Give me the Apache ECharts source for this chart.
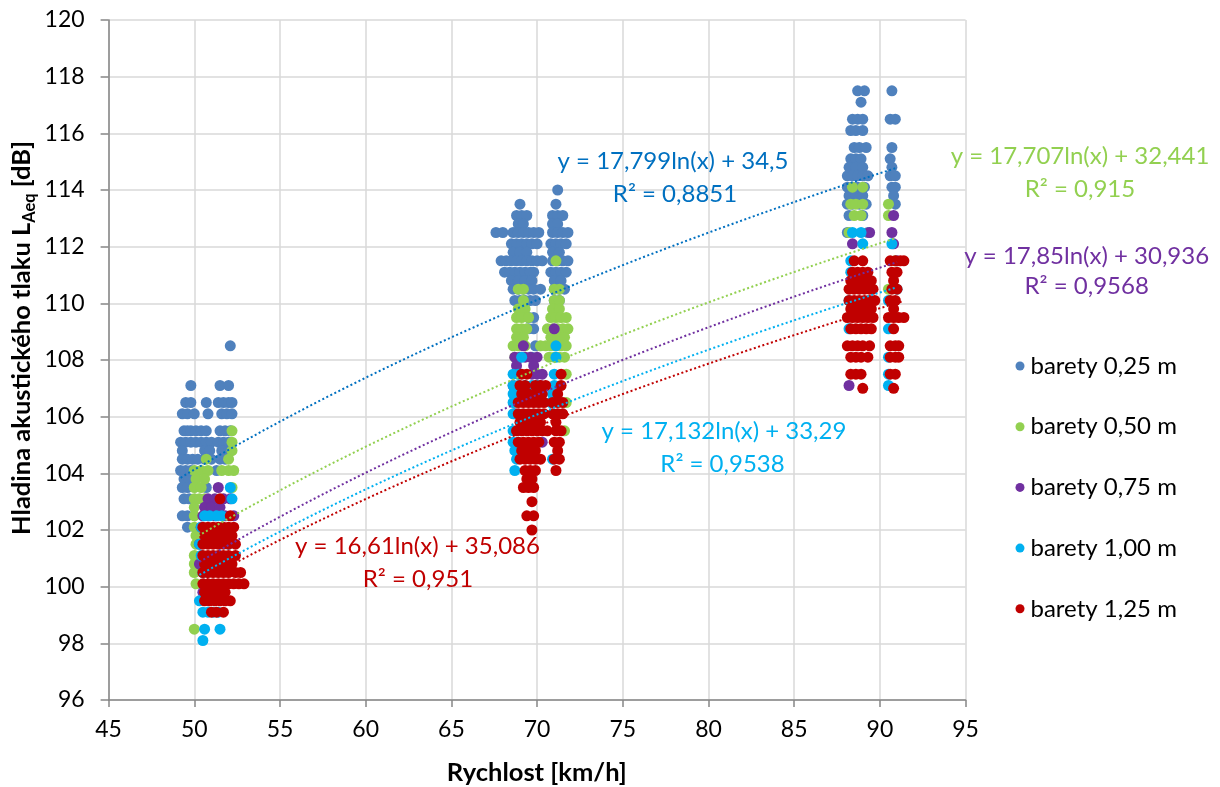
<!DOCTYPE html>
<html><head><meta charset="utf-8">
<script src="https://cdn.jsdelivr.net/npm/echarts@6/dist/echarts.min.js"></script>
<style>html,body{margin:0;padding:0;background:#fff}#c{width:1220px;height:787px}</style>
</head><body><div id="c"></div>
<script>
// ---- DATA ----
const seriesNames = ['barety 0,25 m', 'barety 0,50 m', 'barety 0,75 m', 'barety 1,00 m', 'barety 1,25 m'];
const xAxisRange = [45, 95, 5];
const yAxisRange = [96, 120, 2];
// rows: [y, x1, x2, ...]
const rows025 = [
  [108.5, 52.1],
  [107.1, 49.8, 51.5, 52.0],
  [106.5, 49.5, 49.8, 50.7, 51.4, 51.7, 52.0, 52.2],
  [106.1, 49.3, 49.6, 50.0, 50.8, 51.6, 51.9, 52.2],
  [105.5, 49.4, 49.6, 49.8, 50.1, 50.4, 50.7, 51.5, 51.8, 52.1],
  [105.1, 49.2, 49.5, 49.8, 50.1, 50.4, 50.7, 51.0, 51.4, 51.7, 52.0],
  [104.8, 49.3, 50.6, 50.9, 51.6, 52.0],
  [104.5, 49.3, 49.6, 49.9, 50.2, 50.6, 51.0, 51.5, 51.8],
  [104.1, 49.2, 49.5, 49.8, 51.3],
  [103.8, 49.4, 49.7],
  [103.5, 49.3, 49.6, 50.7],
  [103.1, 49.4, 49.7],
  [102.5, 49.3, 49.6],
  [102.1, 49.6],
  [114.0, 71.2],
  [113.5, 69.0, 71.1],
  [113.1, 68.8, 69.1, 69.4, 70.9, 71.2, 71.5],
  [112.8, 68.9, 69.2, 70.9, 71.2],
  [112.5, 67.6, 68.0, 68.6, 68.9, 69.2, 69.5, 69.8, 70.1, 70.9, 71.2, 71.5, 71.8],
  [112.1, 68.5, 68.8, 69.1, 69.4, 69.7, 70.0, 70.8, 71.1, 71.4, 71.7],
  [111.8, 68.6, 69.0, 69.4, 70.9, 71.3],
  [111.5, 67.9, 68.2, 68.5, 68.8, 69.1, 69.4, 69.7, 70.0, 70.3, 70.9, 71.2, 71.5, 71.8],
  [111.1, 68.1, 68.4, 68.7, 69.0, 69.3, 69.6, 69.8, 70.8, 71.1, 71.4, 71.7],
  [110.8, 68.5, 68.9, 69.3, 69.7, 71.0, 71.4],
  [110.5, 68.6, 68.9, 69.2, 69.5, 69.8, 70.2, 71.0, 71.3, 71.6],
  [110.1, 68.7, 69.0, 69.3, 69.6, 69.9, 71.0, 71.3],
  [109.5, 69.5, 69.8],
  [109.1, 69.5, 69.8],
  [108.5, 69.9],
  [108.1, 69.7],
  [117.5, 88.7, 89.1, 90.7],
  [117.1, 88.9],
  [116.5, 88.4, 88.7, 89.0, 90.6, 90.9],
  [116.1, 88.3, 88.6, 89.0],
  [115.5, 88.5, 88.8, 89.2, 90.7],
  [115.1, 88.3, 88.6, 88.9, 90.6],
  [114.8, 88.2, 88.6, 89.0, 90.7],
  [114.5, 88.1, 88.4, 88.7, 89.0, 89.3, 90.6, 90.9],
  [114.1, 88.1, 88.4, 88.7, 89.1, 90.7, 90.9],
  [113.8, 88.2, 88.6, 89.0, 90.8],
  [113.5, 88.1, 88.4, 88.8, 89.2, 90.9],
  [113.1, 88.2, 89.0],
  [112.5, 88.1, 89.3]
];
const rows050 = [
  [105.5, 52.2],
  [105.1, 52.2],
  [104.8, 52.2],
  [104.5, 50.7, 52.0],
  [104.1, 50.0, 50.4, 50.8, 51.6, 52.0, 52.3],
  [103.8, 50.1, 50.6],
  [103.5, 50.0, 50.4, 52.2],
  [103.1, 50.0, 50.3, 50.6],
  [102.8, 50.0],
  [102.5, 50.0],
  [102.1, 50.0],
  [101.8, 50.1],
  [101.5, 50.1],
  [101.1, 50.0],
  [100.8, 50.0],
  [100.5, 50.0],
  [100.1, 50.1],
  [98.5, 50.0],
  [111.5, 71.1],
  [110.5, 68.9, 69.2, 71.0, 71.3],
  [110.1, 69.2, 71.0, 71.3],
  [109.8, 68.9, 69.3, 70.9, 71.3],
  [109.5, 68.8, 69.1, 69.5, 70.8, 71.1, 71.4, 71.7],
  [109.1, 68.8, 69.1, 69.4, 70.6, 70.9, 71.2, 71.5, 71.8],
  [108.8, 68.8, 69.2, 70.8, 71.2, 71.6],
  [108.5, 68.6, 68.9, 69.3, 70.2, 70.5, 70.8, 71.1, 71.4, 71.7],
  [108.1, 68.7, 70.7, 71.0, 71.3, 71.6],
  [107.5, 68.9, 71.7],
  [106.5, 68.7, 71.7],
  [105.5, 71.6],
  [114.1, 88.4, 89.0],
  [113.5, 88.3, 88.6, 89.0, 90.5],
  [113.1, 88.5, 88.9, 90.5],
  [112.5, 88.2],
  [111.5, 90.9],
  [110.5, 90.5]
];
const rows075 = [
  [103.5, 51.4],
  [103.1, 50.8, 51.2, 51.7, 52.1],
  [102.8, 50.6, 51.0, 51.5],
  [102.5, 50.5, 50.8, 51.2, 51.8, 52.3],
  [102.1, 50.4],
  [101.5, 50.3],
  [100.8, 50.3],
  [99.8, 50.5],
  [109.1, 71.0],
  [108.5, 69.2],
  [108.1, 68.7, 69.0, 69.3, 69.6, 70.0],
  [107.8, 68.8, 69.8],
  [107.5, 69.7, 70.0, 70.3],
  [107.1, 68.6, 70.2],
  [106.1, 68.7],
  [105.1, 70.3],
  [113.1, 90.8],
  [112.5, 89.4, 90.7],
  [112.1, 88.4, 90.8],
  [111.5, 91.0],
  [107.1, 88.2]
];
const rows100 = [
  [103.5, 52.1],
  [103.1, 52.2],
  [102.5, 50.6, 50.9, 51.3, 51.6],
  [102.1, 50.4],
  [101.5, 50.3, 52.0],
  [101.1, 50.4],
  [100.5, 50.5],
  [99.5, 50.3, 50.8],
  [99.1, 50.5, 50.8, 51.1, 51.4],
  [98.5, 50.6, 51.5],
  [98.1, 50.5],
  [108.5, 71.1],
  [108.1, 69.1, 71.1],
  [107.5, 68.6, 68.9, 71.0],
  [107.1, 68.6, 68.9, 69.3, 69.7, 70.0, 71.0],
  [106.8, 68.6, 70.9],
  [106.5, 68.6, 70.8],
  [106.1, 68.6],
  [105.5, 68.6],
  [105.1, 68.6, 68.9],
  [104.8, 68.7],
  [104.5, 68.8, 70.9],
  [104.1, 68.7],
  [112.5, 88.4, 88.9],
  [112.1, 89.0, 90.7],
  [111.5, 88.3],
  [111.1, 88.3],
  [110.5, 91.0],
  [110.1, 88.2, 90.5],
  [109.1, 88.2, 90.5],
  [108.1, 90.5],
  [107.5, 90.5],
  [107.1, 90.5]
];
const rows125 = [
  [103.1, 51.5],
  [102.5, 52.1],
  [102.1, 50.5, 50.8, 51.1, 51.4, 51.7, 52.0, 52.3],
  [101.8, 50.6, 51.0, 51.4, 51.8, 52.2],
  [101.5, 50.5, 50.8, 51.1, 51.4, 51.7, 52.0, 52.4],
  [101.1, 50.5, 50.8, 51.1, 51.4, 51.7, 52.0, 52.4],
  [100.8, 50.6, 51.0, 51.4, 51.8, 52.2],
  [100.5, 50.5, 50.8, 51.1, 51.4, 51.7, 52.0, 52.4, 52.7],
  [100.1, 50.5, 50.8, 51.1, 51.4, 51.7, 52.0, 52.3, 52.6, 52.9],
  [99.8, 50.6, 51.0, 51.4, 51.8],
  [99.5, 50.6, 50.9, 51.2, 51.5, 51.8, 52.1],
  [99.1, 51.0, 51.3, 51.7],
  [107.5, 69.1, 69.4, 71.4],
  [107.1, 69.0, 69.3, 69.9, 70.2, 70.5, 71.4],
  [106.8, 69.1, 69.5, 69.9, 70.3, 71.2],
  [106.5, 68.9, 69.2, 69.5, 69.8, 70.1, 70.4, 70.9, 71.2, 71.5],
  [106.1, 68.9, 69.2, 69.5, 69.8, 70.1, 70.4, 70.9, 71.2, 71.5],
  [105.8, 69.0, 69.4, 69.8, 70.2, 71.1],
  [105.5, 68.8, 69.1, 69.4, 69.7, 70.0, 70.3, 70.6, 71.1, 71.4],
  [105.1, 68.9, 69.2, 69.5, 69.8, 70.1, 71.0, 71.3],
  [104.8, 69.1, 69.5, 69.9, 71.2],
  [104.5, 69.0, 69.3, 69.6, 69.9, 70.2, 71.0, 71.3],
  [104.1, 69.3, 69.6, 69.9, 71.1],
  [103.8, 69.4, 69.7],
  [103.5, 69.2, 69.5, 69.8],
  [103.0, 69.7],
  [102.5, 69.4, 69.8],
  [102.0, 69.7],
  [111.5, 88.5, 89.0, 90.6, 90.9, 91.2, 91.4],
  [111.1, 88.4, 88.7, 89.0, 89.3, 90.7, 91.0],
  [110.8, 88.3, 88.7, 89.1, 89.5, 90.8],
  [110.5, 88.2, 88.5, 88.8, 89.1, 89.4, 89.6, 90.7, 91.0],
  [110.1, 88.2, 88.5, 88.8, 89.1, 89.4, 89.7, 90.6, 90.9],
  [109.8, 88.3, 88.7, 89.1, 89.5, 90.8],
  [109.5, 88.1, 88.4, 88.7, 89.0, 89.3, 89.6, 90.5, 90.8, 91.1, 91.4],
  [109.1, 88.3, 88.6, 88.9, 89.2, 89.5, 90.8],
  [108.5, 88.1, 88.4, 88.7, 89.0, 89.4, 90.6, 90.9, 91.1],
  [108.1, 88.3, 88.6, 88.9, 89.3, 90.6, 90.9, 91.1],
  [107.5, 88.3, 88.6, 88.9, 90.6, 90.9],
  [107.0, 89.0, 90.8]
];
const trendA = [17.799, 17.707, 17.85, 17.132, 16.61];
const trendB = [34.5, 32.441, 30.936, 33.29, 35.086];
const trendR2 = [0.8851, 0.915, 0.9568, 0.9538, 0.951];

// ---- STYLE / LAYOUT ----
const markerColors = ['#4F81BD', '#92D050', '#7030A0', '#00B0F0', '#C00000'];
const lineColors = ['#0070C0', '#92D050', '#7030A0', '#00B0F0', '#C00000'];
// [eqCenterX, eqCenterY, r2CenterX, r2CenterY]
const labelPos = [
  [673, 161.6, 675, 194.6],
  [1080, 156, 1080, 189.3],
  [1086.7, 256, 1086.7, 286],
  [724, 431, 722.5, 464.3],
  [417.5, 546, 418, 579.3]
];
const FONT = 'Lato';

const allRows = [rows025, rows050, rows075, rows100, rows125];
const toPairs = rows => rows.flatMap(([y, ...xs]) => xs.map(x => [x, y]));
const comma = v => String(v).replace('.', ',');

const series = [];
allRows.forEach((rows, i) => {
  series.push({
    name: seriesNames[i], type: 'scatter', symbol: 'circle', symbolSize: 11,
    itemStyle: { color: markerColors[i], opacity: 1 },
    data: toPairs(rows), z: 2
  });
});
allRows.forEach((rows, i) => {
  const xs = toPairs(rows).map(p => p[0]);
  const lo = Math.min(...xs), hi = Math.max(...xs);
  const pts = [];
  const N = 80;
  for (let k = 0; k <= N; k++) {
    const x = lo + (hi - lo) * k / N;
    pts.push([x, trendA[i] * Math.log(x) + trendB[i]]);
  }
  series.push({
    name: 'trend' + i, type: 'line', data: pts, showSymbol: false, symbol: 'none',
    silent: true, z: 5,
    lineStyle: { color: lineColors[i], width: 2, type: [2, 2.5], cap: 'butt' }
  });
});

const graphics = [];
labelPos.forEach((p, i) => {
  graphics.push({ type: 'text', x: p[0], y: p[1], silent: true, z: 10,
    style: { text: 'y = ' + comma(trendA[i]) + 'ln(x) + ' + comma(trendB[i]), fill: lineColors[i],
      font: '24px ' + FONT, textAlign: 'center', textVerticalAlign: 'middle' } });
  graphics.push({ type: 'text', x: p[2], y: p[3], silent: true, z: 10,
    style: { text: 'R² = ' + comma(trendR2[i]), fill: lineColors[i],
      font: '24px ' + FONT, textAlign: 'center', textVerticalAlign: 'middle' } });
});
graphics.push({ type: 'text', x: 536.8, y: 773, silent: true,
  style: { text: 'Rychlost [km/h]', fill: '#000', font: 'bold 25.5px ' + FONT, textAlign: 'center', textVerticalAlign: 'middle' } });
graphics.push({ type: 'text', x: 22, y: 338, rotation: Math.PI / 2, silent: true,
  style: { text: '{n|Hladina akustického tlaku L}{s|Aeq}{n| [dB]}', fill: '#000',
    textAlign: 'center', textVerticalAlign: 'middle',
    rich: {
      n: { fontFamily: FONT, fontWeight: 'bold', fontSize: 25.5, lineHeight: 27, verticalAlign: 'top', fill: '#000' },
      s: { fontFamily: FONT, fontWeight: 'bold', fontSize: 16.5, lineHeight: 16, padding: [13, 0, 0, 0], verticalAlign: 'top', fill: '#000' }
    } } });

const chart = echarts.init(document.getElementById('c'), null, { renderer: 'canvas' });
chart.setOption({
  animation: false,
  backgroundColor: '#fff',
  textStyle: { fontFamily: FONT },
  grid: { left: 108.6, right: 254.4, top: 20, bottom: 87, containLabel: false },
  xAxis: {
    type: 'value', min: xAxisRange[0], max: xAxisRange[1], interval: xAxisRange[2],
    axisLine: { show: true, onZero: false, lineStyle: { color: '#868686', width: 1.5 } },
    axisTick: { show: true, length: 7, lineStyle: { color: '#868686', width: 1.5 } },
    axisLabel: { fontSize: 23, color: '#000', margin: 18, fontFamily: FONT },
    splitLine: { show: true, lineStyle: { color: '#D9D9D9', width: 1.5 } }
  },
  yAxis: {
    type: 'value', min: yAxisRange[0], max: yAxisRange[1], interval: yAxisRange[2],
    axisLine: { show: true, onZero: false, lineStyle: { color: '#868686', width: 1.5 } },
    axisTick: { show: true, length: 8, lineStyle: { color: '#868686', width: 1.5 } },
    axisLabel: { fontSize: 23, color: '#000', margin: 24, fontFamily: FONT },
    splitLine: { show: true, lineStyle: { color: '#D9D9D9', width: 1.5 } }
  },
  legend: {
    data: seriesNames.map(n => ({ name: n, icon: 'circle' })),
    orient: 'vertical', left: 1010.5, top: 349,
    itemWidth: 9, itemHeight: 9, itemGap: 36.7,
    textStyle: { fontSize: 24, lineHeight: 24, color: '#000', fontFamily: FONT, padding: [0, 0, 0, 1] }
  },
  graphic: graphics,
  series: series
});
</script></body></html>
